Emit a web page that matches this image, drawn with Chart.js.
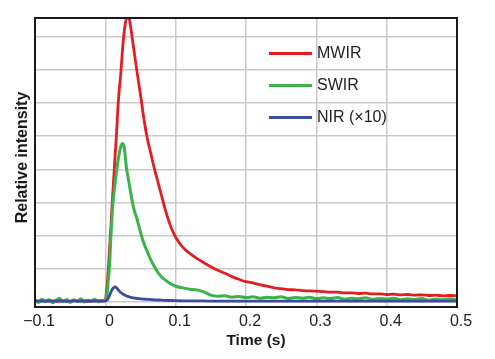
<!DOCTYPE html>
<html>
<head>
<meta charset="utf-8">
<script src="https://cdn.jsdelivr.net/npm/chart.js@4.4.1/dist/chart.umd.min.js"></script>
<style>
  html, body { margin: 0; padding: 0; background: #fff; }
  #wrap { width: 495px; height: 359px; position: relative; }
</style>
</head>
<body>
<div id="wrap"><canvas id="chart"></canvas></div>
<script>
// ====== Datos ======
const seriesLabels = ['MWIR', 'SWIR', 'NIR (\u00d710)'];
const xTickLabels = ['\u22120.1', '0', '0.1', '0.2', '0.3', '0.4', '0.5'];
const yGridValues = [0, 1, 2, 3, 4, 5, 6, 7, 8];
const xTitle = 'Time (s)';
const yTitle = 'Relative intensity';

const times = [
  -0.100, -0.095, -0.090, -0.085, -0.080, -0.075, -0.070, -0.065, -0.060, -0.055,
  -0.050, -0.045, -0.040, -0.035, -0.030, -0.025, -0.020, -0.015, -0.010, -0.005,
  0.000, 0.002, 0.004, 0.006, 0.008, 0.010, 0.012, 0.014, 0.016, 0.018,
  0.020, 0.022, 0.024, 0.026, 0.028, 0.030, 0.032, 0.034, 0.036, 0.038, 0.040,
  0.045, 0.050, 0.055, 0.060, 0.065, 0.070, 0.075, 0.080, 0.085, 0.090, 0.095, 0.100,
  0.11, 0.12, 0.13, 0.14, 0.15, 0.16, 0.17, 0.18, 0.19, 0.20,
  0.21, 0.22, 0.23, 0.24, 0.25, 0.26, 0.27, 0.28, 0.29, 0.30,
  0.31, 0.32, 0.33, 0.34, 0.35, 0.36, 0.37, 0.38, 0.39, 0.40,
  0.41, 0.42, 0.43, 0.44, 0.45, 0.46, 0.47, 0.48, 0.49, 0.50
];

const mwir = [
  0.03, 0.01, 0.03, 0.02, 0.02, 0.03, 0.01, 0.02, 0.03, 0.02,
  0.01, 0.03, 0.02, 0.02, 0.03, 0.01, 0.02, 0.03, 0.02, 0.02,
  0.05, 0.4, 0.9, 1.6, 2.3, 3.06, 3.75, 4.45, 5.1, 5.9,
  6.45, 6.9, 7.5, 8.0, 8.35, 8.55, 8.6, 8.55, 8.3, 8.0, 7.7,
  6.95, 6.25, 5.5, 4.9, 4.45, 4.0, 3.6, 3.2, 2.8, 2.45, 2.17, 1.95,
  1.65, 1.46, 1.31, 1.18, 1.06, 0.95, 0.86, 0.76, 0.68, 0.61,
  0.57, 0.51, 0.47, 0.42, 0.40, 0.37, 0.36, 0.34, 0.33, 0.32,
  0.31, 0.29, 0.29, 0.27, 0.27, 0.25, 0.26, 0.24, 0.24, 0.22,
  0.23, 0.21, 0.22, 0.20, 0.21, 0.19, 0.20, 0.18, 0.19, 0.18
];

const swir = [
  0.04, -0.02, 0.08, 0.01, 0.06, -0.03, 0.05, 0.10, 0.00, 0.07,
  -0.02, 0.06, 0.02, 0.09, -0.01, 0.05, 0.03, 0.08, 0.00, 0.04,
  0.05, 0.15, 0.6, 1.1, 2.0, 2.75, 3.25, 3.6, 3.95, 4.25,
  4.5, 4.68, 4.78, 4.75, 4.45, 4.05, 3.8, 3.55, 3.3, 3.06, 2.85,
  2.5, 2.1, 1.75, 1.5, 1.25, 1.05, 0.88, 0.75, 0.66, 0.58, 0.52, 0.47,
  0.42, 0.38, 0.36, 0.30, 0.20, 0.17, 0.18, 0.14, 0.16, 0.13,
  0.15, 0.11, 0.14, 0.12, 0.15, 0.10, 0.13, 0.11, 0.14, 0.09,
  0.12, 0.10, 0.13, 0.08, 0.11, 0.09, 0.12, 0.07, 0.10, 0.08,
  0.11, 0.06, 0.09, 0.07, 0.10, 0.05, 0.08, 0.06, 0.09, 0.07
];

const nir = [
  0.02, 0.03, 0.02, 0.02, 0.03, 0.02, 0.02, 0.03, 0.02, 0.02,
  0.02, 0.03, 0.02, 0.02, 0.03, 0.02, 0.02, 0.02, 0.03, 0.02,
  0.02, 0.04, 0.10, 0.20, 0.30, 0.38, 0.43, 0.45, 0.42, 0.37,
  0.32, 0.28, 0.25, 0.22, 0.20, 0.18, 0.165, 0.15, 0.135, 0.125, 0.115,
  0.10, 0.09, 0.08, 0.075, 0.065, 0.06, 0.055, 0.05, 0.045, 0.04, 0.04, 0.035,
  0.03, 0.03, 0.025, 0.025, 0.02, 0.02, 0.02, 0.02, 0.02, 0.02,
  0.02, 0.02, 0.02, 0.02, 0.02, 0.02, 0.02, 0.02, 0.02, 0.02,
  0.02, 0.02, 0.02, 0.02, 0.02, 0.02, 0.02, 0.02, 0.02, 0.02,
  0.02, 0.02, 0.02, 0.02, 0.02, 0.02, 0.02, 0.02, 0.02, 0.02
];

// ====== Estilos ======
const COLORS = ['#e31d23', '#3bb34a', '#3c4ca0'];
const FONT = '"Liberation Sans", Arial, Helvetica, sans-serif';
const TEXT = '#222';

const toPoints = (vals) => vals.map((v, i) => ({ x: times[i], y: v }));

// marco + leyenda + titulos
const decoPlugin = {
  id: 'deco',
  afterDatasetsDraw(chart) {
    const { ctx, chartArea: a } = chart;
    ctx.save();
    ctx.strokeStyle = '#1a1a1a';
    ctx.lineWidth = 2;
    ctx.strokeRect(a.left, a.top, a.right - a.left, a.bottom - a.top);

    // leyenda dentro del area
    ctx.font = '16px ' + FONT;
    ctx.textBaseline = 'middle';
    ctx.textAlign = 'left';
    chart.data.datasets.forEach((ds, i) => {
      const y = a.top + 35.5 + i * 32;
      const x0 = a.right - 188;
      ctx.strokeStyle = ds.borderColor;
      ctx.lineWidth = 3;
      ctx.beginPath();
      ctx.moveTo(x0, y);
      ctx.lineTo(x0 + 43, y);
      ctx.stroke();
      ctx.fillStyle = TEXT;
      ctx.fillText(ds.label, x0 + 48, y);
    });

    // titulos de ejes
    ctx.fillStyle = '#1a1a1a';
    ctx.font = 'bold 15.5px ' + FONT;
    ctx.textAlign = 'center';
    ctx.textBaseline = 'alphabetic';
    ctx.fillText(xTitle, (a.left + a.right) / 2 + 10, 345);

    ctx.font = 'bold 16px ' + FONT;
    ctx.translate(27, (a.top + a.bottom) / 2 - 5);
    ctx.rotate(-Math.PI / 2);
    ctx.fillText(yTitle, 0, 0);
    ctx.restore();
  }
};

new Chart(document.getElementById('chart'), {
  type: 'line',
  data: {
    datasets: [
      { label: seriesLabels[0], data: toPoints(mwir), borderColor: COLORS[0], order: 3 },
      { label: seriesLabels[1], data: toPoints(swir), borderColor: COLORS[1], borderWidth: 3, order: 2 },
      { label: seriesLabels[2], data: toPoints(nir), borderColor: COLORS[2], order: 1 }
    ]
  },
  options: {
    responsive: true,
    maintainAspectRatio: false,
    animation: false,
    layout: { padding: { left: 35, right: 38, top: 18, bottom: 0 } },
    elements: {
      point: { radius: 0 },
      line: { borderWidth: 2.8, cubicInterpolationMode: 'monotone', fill: false }
    },
    plugins: {
      legend: { display: false },
      tooltip: { enabled: false }
    },
    scales: {
      x: {
        type: 'linear',
        min: -0.1,
        max: 0.5,
        ticks: {
          stepSize: 0.1,
          padding: 5,
          labelOffset: 4,
          color: TEXT,
          font: { family: FONT, size: 16 },
          callback: (val) => xTickLabels[Math.round((val + 0.1) * 10)] ?? ''
        },
        grid: { color: '#cacaca', lineWidth: 1.5, drawTicks: false },
        border: { display: false },
        afterFit: (scale) => { scale.height = 52; }
      },
      y: {
        min: -0.157,
        max: 8.57,
        ticks: { display: false },
        afterBuildTicks: (scale) => { scale.ticks = yGridValues.map(v => ({ value: v })); },
        grid: { color: '#cacaca', lineWidth: 1.5, drawTicks: false },
        border: { display: false },
        afterFit: (scale) => { scale.width = 0; }
      }
    }
  },
  plugins: [decoPlugin]
});
</script>
</body>
</html>
